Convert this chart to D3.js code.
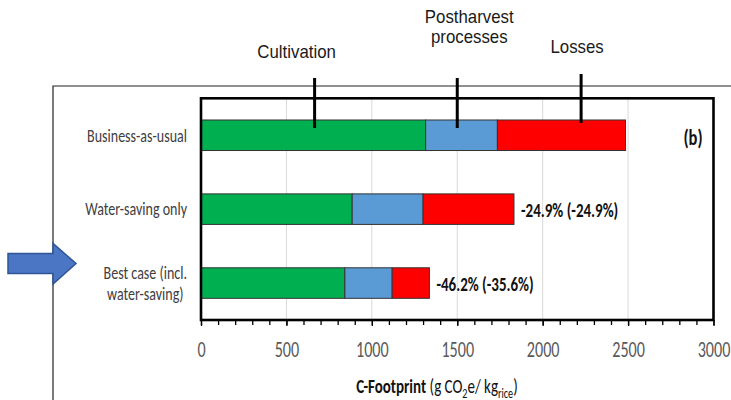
<!DOCTYPE html>
<html>
<head>
<meta charset="utf-8">
<script src="https://cdn.jsdelivr.net/npm/d3@7"></script>
<style>
  html, body { margin: 0; padding: 0; background: #fff; }
  svg { display: block; }
</style>
</head>
<body>
<svg id="chart" width="731" height="400"></svg>
<script>
// Scenario rows and their (wrapped) labels
const scenarios = ["Business-as-usual", "Water-saving only", "Best case (incl. water-saving)"];
const scenarioLines = [["Business-as-usual"], ["Water-saving only"], ["Best case (incl.", "water-saving)"]];

// Carbon footprint components, g CO2e per kg rice
const cultivation = [1315, 885, 842];
const postharvest = [420, 415, 277];
const losses      = [750, 532, 218];

// Reduction annotations next to the bars (null = none)
const reductionLabels = [null, "-24.9% (-24.9%)", "-46.2% (-35.6%)"];

// Stage names with the footprint value their leader line points at
const stageNames = [["Cultivation"], ["Postharvest", "processes"], ["Losses"]];
const stageLeaderAt = [665, 1500, 2225];

const majorTicks = [0, 500, 1000, 1500, 2000, 2500, 3000];
const minorTicks = d3.range(0, 3001, 100);

const colors = { cultivation: "#00b050", postharvest: "#5b9bd5", losses: "#ff0000" };

const svg = d3.select("#chart");
const W = 731, H = 400;
const plot = { left: 201, right: 713.5, top: 98.3, bottom: 320 };

// Calibri-like narrow text, squeezed horizontally
const NARROW = "Carlito, Calibri, Lato, sans-serif";
const SQ = 0.75;

const x = d3.scaleLinear().domain([0, 3000]).range([plot.left, plot.right]);
const y = d3.scaleBand().domain(scenarios).range([plot.top, plot.bottom])
  .paddingInner(0.587).paddingOuter(0.2935);

// stacked data
const rows = scenarios.map((s, i) => ({
  scenario: s, cultivation: cultivation[i], postharvest: postharvest[i], losses: losses[i]
}));
const keys = ["cultivation", "postharvest", "losses"];
const stacked = d3.stack().keys(keys)(rows);

// outer frame
svg.append("path")
  .attr("d", `M53,${H} V86 H${W}`)
  .attr("fill", "none").attr("stroke", "#222").attr("stroke-width", 1.2);

// gridlines
svg.append("g").selectAll("line")
  .data(majorTicks.filter(t => t > 0 && t < 3000))
  .join("line")
  .attr("x1", d => x(d)).attr("x2", d => x(d))
  .attr("y1", plot.top).attr("y2", plot.bottom)
  .attr("stroke", "#d9d9d9").attr("stroke-width", 1);

// bars
svg.append("g").selectAll("g")
  .data(stacked)
  .join("g")
  .attr("fill", d => colors[d.key])
  .selectAll("rect")
  .data(d => d)
  .join("rect")
  .attr("x", d => x(d[0]))
  .attr("width", d => x(d[1]) - x(d[0]))
  .attr("y", d => y(d.data.scenario))
  .attr("height", y.bandwidth())
  .attr("stroke", "#333").attr("stroke-width", 1);

// plot border
svg.append("rect")
  .attr("x", plot.left).attr("y", plot.top)
  .attr("width", plot.right - plot.left).attr("height", plot.bottom - plot.top)
  .attr("fill", "none").attr("stroke", "#000").attr("stroke-width", 2.6);

// minor ticks
const minorAxis = d3.axisBottom(x).tickValues(minorTicks).tickSize(5).tickFormat("");
const gMinor = svg.append("g").attr("transform", `translate(0,${plot.bottom})`).call(minorAxis);
gMinor.select(".domain").remove();
gMinor.selectAll(".tick line").attr("stroke", "#000").attr("stroke-width", 1.3);

// major ticks with labels
const majorAxis = d3.axisBottom(x).tickValues(majorTicks).tickSize(6).tickFormat(d3.format("d"));
const gMajor = svg.append("g").attr("transform", `translate(0,${plot.bottom})`).call(majorAxis);
gMajor.select(".domain").remove();
gMajor.selectAll(".tick line").attr("stroke", "#000").attr("stroke-width", 1.3);
gMajor.selectAll(".tick text")
  .attr("y", 36.7).attr("dy", 0)
  .attr("transform", `scale(${SQ},1)`)
  .attr("font-family", NARROW).attr("font-size", 21.5)
  .attr("fill", "#595959");

// scenario labels: lines centred on each other, block right-aligned
const labelRight = 187;
const gLabels = svg.append("g");
scenarioLines.forEach((lines, i) => {
  const cy = y(scenarios[i]) + y.bandwidth() / 2;
  const texts = lines.map((ln, j) => {
    const by = cy + 6.3 + (j - (lines.length - 1) / 2) * 21;
    return gLabels.append("text")
      .attr("font-family", NARROW).attr("font-size", 18.7)
      .attr("fill", "#404040").attr("text-anchor", "middle")
      .attr("data-y", by)
      .text(ln);
  });
  const maxW = d3.max(texts, t => t.node().getComputedTextLength()) * SQ;
  const cx = labelRight - maxW / 2;
  texts.forEach(t => t.attr("transform", `translate(${cx},${t.attr("data-y")}) scale(${SQ},1)`).attr("data-y", null));
});

// reduction labels
svg.append("g").selectAll("text")
  .data(rows.map((r, i) => ({ r, label: reductionLabels[i] })).filter(d => d.label))
  .join("text")
  .attr("transform", d => {
    const total = d.r.cultivation + d.r.postharvest + d.r.losses;
    const tx = x(total) + 7;
    const ty = y(d.r.scenario) + y.bandwidth() / 2 + 7.8;
    return `translate(${tx},${ty}) scale(${SQ},1)`;
  })
  .attr("font-family", NARROW).attr("font-size", 20).attr("font-weight", 700)
  .attr("fill", "#111")
  .text(d => d.label);

// panel tag
svg.append("text")
  .attr("transform", `translate(693,145) scale(${SQ},1)`)
  .attr("text-anchor", "middle")
  .attr("font-family", NARROW).attr("font-size", 22).attr("font-weight", 700)
  .attr("fill", "#111")
  .text("(b)");

// axis title with subscripts
const title = svg.append("text")
  .attr("transform", `translate(437,393) scale(${SQ},1)`)
  .attr("text-anchor", "middle")
  .attr("font-family", NARROW).attr("font-size", 20)
  .attr("fill", "#111");
title.append("tspan").attr("font-weight", 700).text("C-Footprint");
title.append("tspan").text(" (g CO");
title.append("tspan").attr("font-size", 13.5).attr("dy", 4.5).text("2");
title.append("tspan").attr("dy", -4.5).text("e/ kg");
title.append("tspan").attr("font-size", 13.5).attr("dy", 4.5).text("rice");
title.append("tspan").attr("dy", -4.5).text(")");

// stage leaders and names
const leaderTop = [78, 78, 74];
const leaderDepth = [128, 128, 123];
const nameDx = [-18, 12, -4];
const nameBaseline = [58, 22.5, 53];
const gStage = svg.append("g");
stageNames.forEach((lines, i) => {
  const lx = x(stageLeaderAt[i]);
  gStage.append("line")
    .attr("x1", lx).attr("x2", lx)
    .attr("y1", leaderTop[i]).attr("y2", leaderDepth[i])
    .attr("stroke", "#000").attr("stroke-width", 3);
  lines.forEach((ln, j) => {
    gStage.append("text")
      .attr("transform", `translate(${lx + nameDx[i]},${nameBaseline[i] + j * 20}) scale(0.935,1)`)
      .attr("text-anchor", "middle")
      .attr("font-family", "Liberation Sans, Arial, sans-serif").attr("font-size", 18)
      .attr("fill", "#1a1a1a")
      .text(ln);
  });
});

// block arrow pointing at the best case row
svg.append("path")
  .attr("d", "M8,253.5 H53 V243.5 L76,263.5 L53,284 V273.5 H8 Z")
  .attr("fill", "#4a76c4").attr("stroke", "#2f5597").attr("stroke-width", 1.5)
  .attr("stroke-linejoin", "miter");
</script>
</body>
</html>
